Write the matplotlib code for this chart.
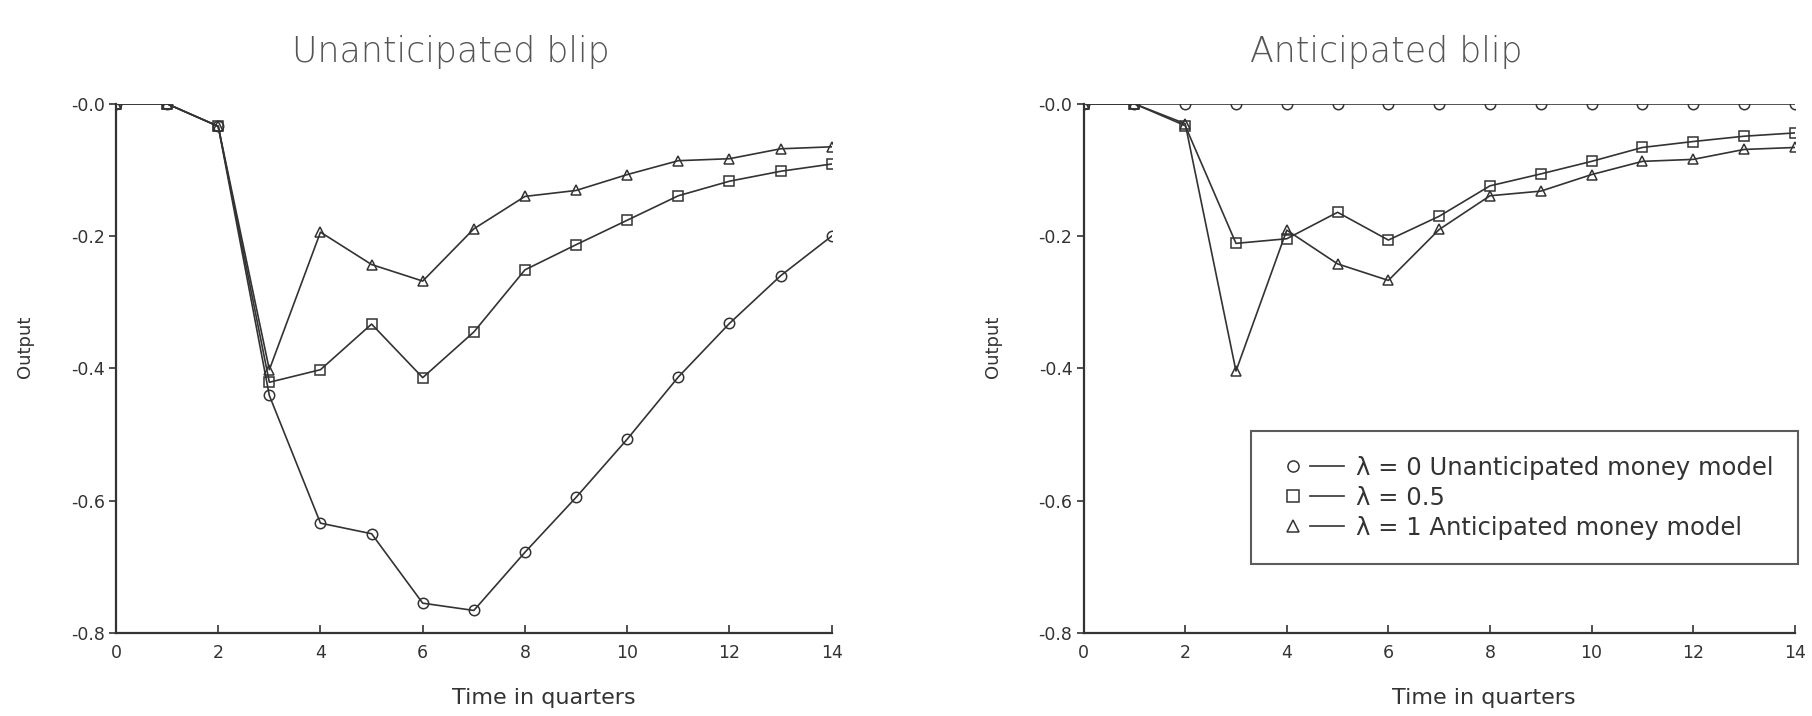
import matplotlib
matplotlib.use('Agg')
import matplotlib.pyplot as plt
from matplotlib.lines import Line2D
from matplotlib.legend_handler import HandlerTuple

# quarters after the blip
quarters = list(range(15))

# unanticipated blip
unant_lam0 = [0, 0, -0.034, -0.441, -0.634, -0.650, -0.755, -0.766, -0.678, -0.595,
              -0.507, -0.413, -0.332, -0.260, -0.200]
unant_lam05 = [0, 0, -0.034, -0.421, -0.402, -0.333, -0.414, -0.345, -0.251, -0.213,
               -0.176, -0.139, -0.117, -0.102, -0.091]
unant_lam1 = [0, 0, -0.034, -0.402, -0.194, -0.243, -0.268, -0.189, -0.140, -0.131,
              -0.107, -0.086, -0.083, -0.068, -0.065]

# anticipated blip
ant_lam0 = [0] * 15
ant_lam05 = [0, 0, -0.033, -0.211, -0.204, -0.164, -0.206, -0.170, -0.124, -0.106,
             -0.087, -0.066, -0.057, -0.049, -0.044]
ant_lam1 = [0, 0, -0.030, -0.404, -0.191, -0.242, -0.267, -0.190, -0.139, -0.132,
            -0.107, -0.087, -0.084, -0.069, -0.066]

xticks = [0, 2, 4, 6, 8, 10, 12, 14]
yticks = [-0.8, -0.6, -0.4, -0.2, 0.0]
ytick_labels = ['-0.8', '-0.6', '-0.4', '-0.2', '-0.0']
legend_labels = ['λ = 0 Unanticipated money model', 'λ = 0.5', 'λ = 1 Anticipated money model']

ink = '#333333'
plt.rcParams['font.family'] = ['DejaVu Sans']

fig = plt.figure(figsize=(18.12, 7.16), dpi=100)
ax1 = fig.add_axes([0.064, 0.116, 0.395, 0.739])
ax2 = fig.add_axes([0.598, 0.116, 0.3925, 0.739])

style = dict(color=ink, lw=1.2, mfc='none', mew=1.1, ms=7.5)

for ax, series in [(ax1, [unant_lam0, unant_lam05, unant_lam1]),
                   (ax2, [ant_lam0, ant_lam05, ant_lam1])]:
    for vals, mk in zip(series, ['o', 's', '^']):
        ax.plot(quarters, vals, marker=mk, **style)
    ax.set_xlim(0, 14)
    ax.set_ylim(-0.8, 0)
    ax.set_xticks(xticks)
    ax.set_yticks(yticks)
    ax.set_yticklabels(ytick_labels)
    for s in ['top', 'right']:
        ax.spines[s].set_visible(False)
    for s in ['left', 'bottom']:
        ax.spines[s].set_color(ink)
        ax.spines[s].set_linewidth(1.6)
    ax.tick_params(axis='x', direction='in', length=6, width=1.2, colors=ink,
                   labelsize=12.5, pad=8)
    ax.tick_params(axis='y', direction='out', length=5, width=1.2, colors=ink,
                   labelsize=12.5, pad=3)

# titles and axis labels placed like the original
fig.text(0.249, 0.927, 'Unanticipated blip', ha='center', va='center',
         fontsize=25, color='#555555', fontweight='light')
fig.text(0.765, 0.927, 'Anticipated blip', ha='center', va='center',
         fontsize=25, color='#555555', fontweight='light')
fig.text(0.300, 0.025, 'Time in quarters', ha='center', va='center', fontsize=16, color=ink)
fig.text(0.819, 0.025, 'Time in quarters', ha='center', va='center', fontsize=16, color=ink)
fig.text(0.014, 0.515, 'Output', ha='center', va='center', rotation=90, fontsize=13, color=ink)
fig.text(0.548, 0.515, 'Output', ha='center', va='center', rotation=90, fontsize=13, color=ink)

# legend: marker at the left, then a short line
handles = []
for mk in ['o', 's', '^']:
    m = Line2D([], [], marker=mk, ls='none', color=ink, mfc='none', mew=1.1, ms=8)
    l = Line2D([], [], color=ink, lw=1.2)
    handles.append((m, l))
leg = ax2.legend(handles, legend_labels, handler_map={tuple: HandlerTuple(ndivide=2, pad=0)},
                 loc='lower right', bbox_to_anchor=(1.004, 0.13), fontsize=17.5,
                 labelcolor=ink, frameon=True, fancybox=False, handlelength=2.8,
                 handletextpad=0.5, borderpad=1.0, labelspacing=0.25, borderaxespad=0)
leg.get_frame().set_edgecolor(ink)
leg.get_frame().set_linewidth(1.5)

fig.savefig('out.png', dpi=100)
